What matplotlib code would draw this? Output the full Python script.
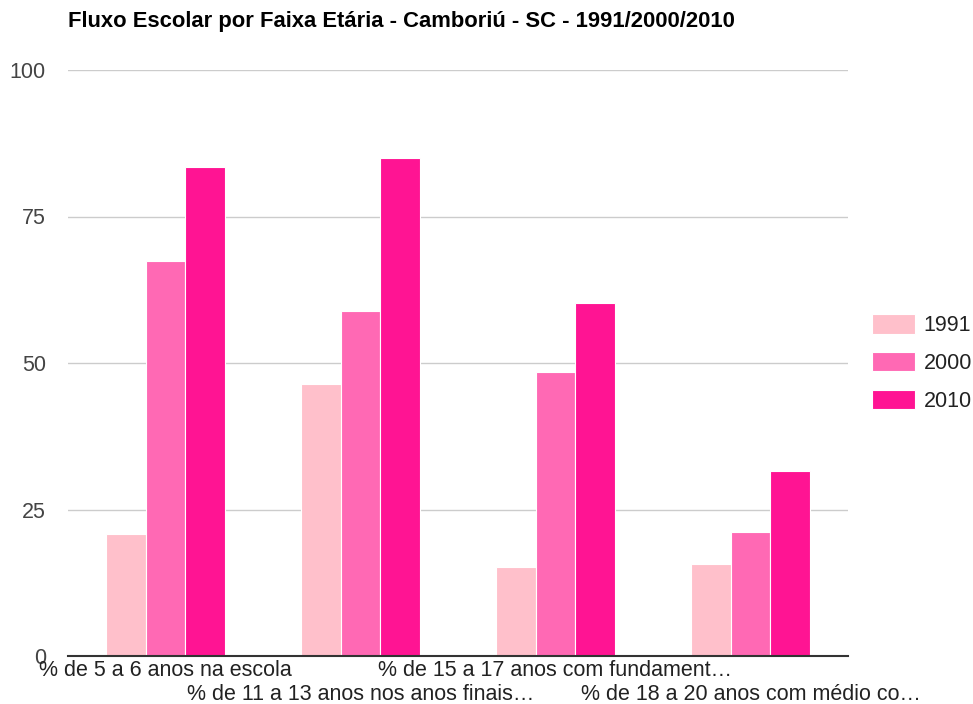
import numpy as np
import matplotlib.pyplot as plt

plt.rcParams['font.family'] = ['Liberation Sans', 'DejaVu Sans']

categorias = [
    "% de 5 a 6 anos na escola",
    "% de 11 a 13 anos nos anos finais…",
    "% de 15 a 17 anos com fundament…",
    "% de 18 a 20 anos com médio co…",
]
anos = ["1991", "2000", "2010"]
valores_1991 = [20.8, 46.4, 15.2, 15.7]
valores_2000 = [67.4, 58.9, 48.5, 21.2]
valores_2010 = [83.4, 85.0, 60.2, 31.6]
cores = ["#FFC0CB", "#FF69B4", "#FF1493"]

fig = plt.figure(figsize=(9.73, 7.04), dpi=100)
ax = fig.add_axes([68 / 973, 48 / 704, 780 / 973, 586 / 704])

x = np.arange(len(categorias))
largura = 0.205
series = [valores_1991, valores_2000, valores_2010]
for i, (ano, vals) in enumerate(zip(anos, series)):
    ax.bar(x + (i - 1) * largura, vals, largura, color=cores[i], label=ano,
           edgecolor="white", linewidth=0.8, zorder=3)

ax.set_xlim(-0.5, len(categorias) - 0.5)
ax.set_ylim(0, 100)
ax.set_yticks([0, 25, 50, 75, 100])
ax.grid(axis="y", color="#cccccc", linewidth=1, zorder=0)
ax.tick_params(axis="y", length=0, labelsize=15.5, labelcolor="#444444", pad=16)
ax.tick_params(axis="x", length=0)
ax.set_xticks(x)
ax.set_xticklabels([])
for s in ["top", "right", "left"]:
    ax.spines[s].set_visible(False)
ax.spines["bottom"].set_color("#333333")
ax.spines["bottom"].set_linewidth(1.5)
ax.spines["bottom"].set_zorder(4)

# rótulos do eixo x alternados em duas linhas
for i, cat in enumerate(categorias):
    y = -0.006 if i % 2 == 0 else -0.047
    ax.text(x[i], y, cat, transform=ax.get_xaxis_transform(), ha="center",
            va="top", fontsize=15.5, color="#222222")

fig.text(68 / 973, 1 - 22 / 704, "Fluxo Escolar por Faixa Etária - Camboriú - SC - 1991/2000/2010",
         fontsize=15.8, fontweight="bold", ha="left", va="center", color="black")

ax.legend(loc="center left", bbox_to_anchor=(1.031, 0.5), frameon=False, fontsize=15.5,
          handlelength=2.0, handleheight=1.0, labelspacing=0.72, handletextpad=0.4,
          borderaxespad=0, borderpad=0, labelcolor="#222222")

fig.savefig("out.png", dpi=100)
